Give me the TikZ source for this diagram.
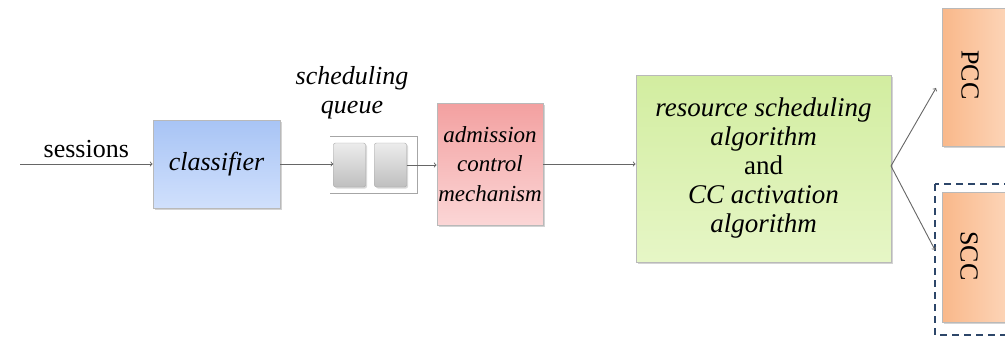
\documentclass[tikz,border=0pt]{standalone}
\usepackage{fontspec}
\setmainfont{Liberation Serif}
\usepackage{tikz}
\usetikzlibrary{calc,shadows}

\definecolor{clsblue}{RGB}{168,196,245}
\definecolor{clsblueb}{RGB}{208,224,252}
\definecolor{admred}{RGB}{243,160,160}
\definecolor{admredb}{RGB}{251,214,214}
\definecolor{alggreen}{RGB}{210,237,160}
\definecolor{alggreenb}{RGB}{230,246,198}
\definecolor{ccorange}{RGB}{249,184,138}
\definecolor{ccorangeb}{RGB}{253,219,194}
\definecolor{frameblue}{RGB}{45,70,105}

\begin{document}
\begin{tikzpicture}[x=1pt,y=-1pt,
  every node/.style={font=\fontsize{26}{29}\selectfont},
  box/.style={draw=gray!55,line width=0.8pt,align=center,
    drop shadow={shadow xshift=2pt,shadow yshift=-2pt,opacity=0.35}},
  cell/.style={draw=gray!70,rounded corners=2pt,minimum width=32,minimum height=44,
    top color=gray!15,bottom color=gray!50,
    drop shadow={shadow xshift=1.5pt,shadow yshift=-1.5pt,opacity=0.3}},
  flow/.style={->,>=To,draw=black!60,line width=0.9pt},
  ccbox/.style={box,left color=ccorange,right color=ccorangeb,
    minimum width=80,minimum height=138}]
\clip (0,0) rectangle (1005,343);

\node[box,top color=clsblue,bottom color=clsblueb,minimum width=127,minimum height=88]
  (cls) at (216.5,164) {\itshape classifier};
\node[box,top color=admred,bottom color=admredb,minimum width=106,minimum height=122,
  font=\fontsize{23}{29.5}\selectfont,inner sep=1pt]
  (adm) at (490,164) {\itshape admission\\\itshape control\\\itshape mechanism};
\node[box,top color=alggreen,bottom color=alggreenb,minimum width=255,minimum height=187,
  font=\fontsize{27}{29}\selectfont]
  (alg) at (763.5,168.5) {\itshape resource scheduling\\\itshape algorithm\\and\\
  \itshape CC activation\\\itshape algorithm};

\node[cell] (q1) at (349.5,165) {};
\node[cell] (q2) at (390.5,165) {};
\draw[gray!70,line width=0.9pt] (330,136) -- (417,136) -- (417,193) -- (330,193);
\node[align=center] (qlabel) at (352,93) {\itshape scheduling\\\itshape queue};

\node[ccbox] (pcc) at (982,77) {};
\node[rotate=-90] (pcctext) at (970,75) {PCC};
\node[ccbox,minimum height=130] (scc) at (982,257) {};
\node[rotate=-90] (scctext) at (969,256) {SCC};
\draw[frameblue,line width=2.2pt,dash pattern=on 7pt off 5pt] (935,184) rectangle (1020,335);

\coordinate (src) at (20,164);
\coordinate (pin) at (936,88);
\coordinate (sin) at (935,250);
\coordinate (split) at (891,166);

\draw[flow] (src) -- node[above=2pt] (sess) {sessions} (cls.west);
\draw[flow] (cls.east) -- (cls.east -| q1.west);
\draw[flow] (q2.east) -- (q2.east -| adm.west);
\draw[flow] (adm.east) -- (adm.east -| alg.west);
\draw[flow] (split) -- (pin);
\draw[flow] (split) -- (sin);
\end{tikzpicture}
\end{document}
